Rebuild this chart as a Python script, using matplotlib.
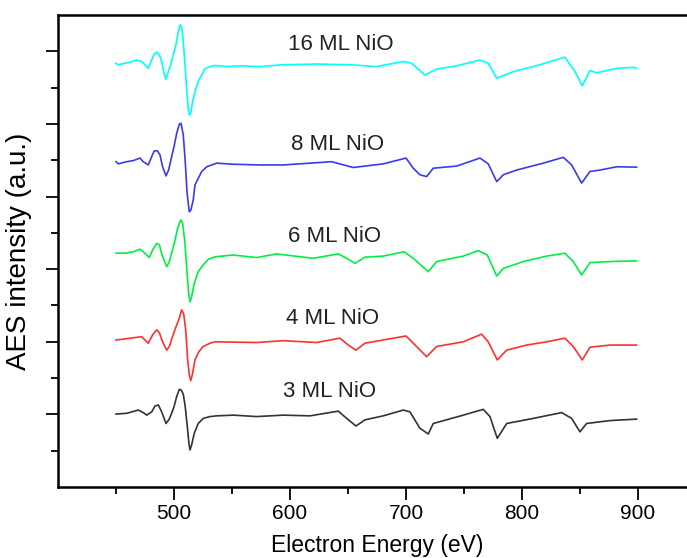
# AES spectra of NiO films of increasing thickness (offset for clarity)
import matplotlib
matplotlib.use('Agg')
import matplotlib.pyplot as plt
from matplotlib.ticker import FixedLocator

plt.rcParams['font.family'] = ['Liberation Sans', 'DejaVu Sans']

# energies (eV) and intensities (a.u., offset already included)
e_3ml = [450, 459.2, 469.2, 473.5, 476.5, 480.8, 483.6, 486.5, 489.4, 493.1, 495.7,
         498.0, 500.0, 502.3, 504.6, 506.3, 508.0, 509.7, 511.5, 512.9, 513.8, 515.2,
         517.5, 520.9, 525.2, 531.0, 536.8, 551.1, 571.3, 594.2, 617.2, 641.6, 648.9,
         656.9, 664.6, 680.4, 697.7, 703.4, 712.0, 719.2, 723.5, 749.4, 766.6, 772.4,
         778.7, 786.8, 809.7, 834.2, 842.8, 850.0, 855.7, 875.8, 898.8]
i_3ml = [2.01, 2.03, 2.12, 2.05, 1.98, 2.07, 2.23, 2.26, 2.07, 1.75, 1.86,
         2.03, 2.21, 2.49, 2.69, 2.67, 2.56, 2.21, 1.66, 1.20, 1.02, 1.16,
         1.48, 1.75, 1.89, 1.94, 1.96, 1.98, 1.94, 1.98, 1.96, 2.09, 1.89,
         1.68, 1.85, 1.96, 2.12, 2.07, 1.62, 1.46, 1.75, 1.98, 2.14, 1.94,
         1.34, 1.75, 1.89, 2.05, 1.89, 1.52, 1.75, 1.83, 1.87]

e_4ml = [450, 457.8, 464.9, 472.1, 475.0, 477.8, 481.6, 485.1, 487.4, 490.2, 493.7,
         496.0, 498.3, 500.9, 504.6, 506.6, 508.3, 510.1, 511.8, 513.2, 514.4, 515.8,
         518.1, 521.5, 525.2, 531.0, 535.3, 551.1, 571.3, 594.2, 623.0, 643.1, 650.2,
         656.9, 664.6, 680.4, 700.0, 706.3, 717.8, 726.4, 749.4, 765.2, 770.9, 778.7,
         786.8, 804.0, 821.3, 837.0, 844.2, 852.0, 858.6, 875.8, 898.8]
i_4ml = [4.05, 4.08, 4.11, 4.14, 4.05, 3.96, 4.19, 4.33, 4.25, 4.00, 3.77,
         3.87, 4.10, 4.34, 4.65, 4.88, 4.78, 4.33, 3.50, 3.09, 2.93, 3.09,
         3.50, 3.73, 3.87, 3.96, 4.00, 3.99, 3.98, 4.03, 3.98, 4.10, 3.91,
         3.77, 3.96, 4.05, 4.16, 3.96, 3.59, 3.87, 4.00, 4.21, 4.00, 3.50,
         3.77, 3.91, 4.00, 4.10, 3.87, 3.50, 3.85, 3.91, 3.91]

e_6ml = [450, 457.8, 464.9, 470.7, 475.0, 478.7, 481.6, 485.1, 487.4, 489.7, 493.7,
         496.0, 498.3, 500.9, 503.2, 505.8, 507.5, 509.2, 510.9, 512.6, 513.8, 515.2,
         517.5, 520.9, 525.2, 529.6, 535.3, 551.1, 571.3, 588.5, 620.1, 641.6, 648.9,
         656.0, 664.6, 680.4, 698.3, 706.3, 719.2, 726.4, 749.4, 762.3, 770.1, 778.2,
         783.9, 801.1, 821.3, 837.0, 844.2, 851.4, 858.6, 875.8, 898.8]
i_6ml = [6.44, 6.44, 6.48, 6.55, 6.44, 6.32, 6.53, 6.71, 6.67, 6.39, 6.07,
         6.21, 6.48, 6.80, 7.13, 7.36, 7.26, 6.80, 6.07, 5.34, 5.10, 5.24,
         5.61, 5.93, 6.12, 6.27, 6.34, 6.39, 6.32, 6.42, 6.30, 6.42, 6.30,
         6.16, 6.33, 6.36, 6.48, 6.30, 5.93, 6.21, 6.36, 6.51, 6.39, 5.81,
         6.02, 6.21, 6.36, 6.44, 6.21, 5.84, 6.18, 6.21, 6.23]

e_8ml = [450, 452.0, 459.2, 464.9, 470.7, 473.5, 477.8, 480.8, 483.0, 485.6, 487.9,
         490.2, 493.1, 495.4, 497.7, 500.0, 502.3, 504.6, 506.0, 508.0, 509.7, 511.2,
         512.3, 513.2, 514.6, 516.6, 518.1, 520.9, 523.9, 528.2, 536.8, 551.1, 574.1,
         594.2, 635.9, 654.5, 680.4, 700.0, 706.3, 712.0, 717.8, 723.5, 743.7, 763.8,
         770.9, 778.2, 783.9, 795.4, 818.3, 835.6, 842.8, 851.4, 858.6, 867.2, 881.6,
         898.8]
i_8ml = [8.96, 8.90, 8.96, 8.99, 9.06, 8.96, 8.87, 9.10, 9.26, 9.26, 9.15,
         8.82, 8.57, 8.73, 9.06, 9.37, 9.74, 9.99, 10.02, 9.70, 8.96, 8.14,
         7.82, 7.58, 7.63, 7.91, 8.32, 8.50, 8.69, 8.82, 8.92, 8.89, 8.87,
         8.87, 8.96, 8.80, 8.90, 9.06, 8.78, 8.60, 8.55, 8.78, 8.84, 9.06,
         8.90, 8.41, 8.60, 8.73, 8.92, 9.08, 8.87, 8.37, 8.69, 8.73, 8.82,
         8.81]

e_16ml = [450, 452.0, 456.3, 462.1, 467.8, 472.1, 475.0, 477.8, 480.8, 483.0, 485.1,
          487.4, 489.4, 491.4, 493.1, 495.1, 497.1, 499.4, 501.7, 503.7, 505.2, 506.6,
          508.0, 509.5, 510.9, 512.3, 513.2, 514.4, 516.1, 518.1, 520.9, 523.9, 526.7,
          531.0, 535.3, 545.4, 556.9, 574.1, 594.2, 623.0, 651.7, 674.7, 697.7, 704.9,
          716.4, 726.4, 743.7, 763.8, 770.9, 778.2, 792.5, 815.5, 837.0, 845.7, 852.0,
          858.6, 864.4, 881.6, 895.9, 898.8]
i_16ml = [11.67, 11.63, 11.66, 11.70, 11.76, 11.72, 11.63, 11.53, 11.76, 11.92, 11.98,
          11.90, 11.72, 11.40, 11.23, 11.44, 11.63, 11.90, 12.18, 12.54, 12.73, 12.68,
          12.27, 11.63, 10.98, 10.43, 10.25, 10.29, 10.62, 10.89, 11.17, 11.35, 11.52,
          11.58, 11.61, 11.58, 11.60, 11.58, 11.63, 11.65, 11.63, 11.58, 11.72, 11.67,
          11.35, 11.51, 11.60, 11.76, 11.67, 11.26, 11.44, 11.63, 11.84, 11.44, 11.05,
          11.47, 11.41, 11.53, 11.56, 11.53]

labels = ['3 ML NiO', '4 ML NiO', '6 ML NiO', '8 ML NiO', '16 ML NiO']
label_x = [634, 637, 638, 641, 644]
label_y = [2.64, 4.63, 6.91, 9.42, 12.18]
colors = ['#333333', '#ff3030', '#00f040', '#3a3af0', '#00ffff']

fig = plt.figure(figsize=(6.87, 5.58), dpi=100)
ax = fig.add_axes([0.0844, 0.1272, 0.9287, 0.8459])

spectra = [(e_3ml, i_3ml), (e_4ml, i_4ml), (e_6ml, i_6ml), (e_8ml, i_8ml), (e_16ml, i_16ml)]
for (e, inten), c in zip(spectra, colors):
    ax.plot(e, inten, color=c, lw=1.2)

for lab, x, y in zip(labels, label_x, label_y):
    ax.text(x, y, lab, ha='center', va='center', fontsize=16, color='#222222')

ax.set_xlim(400, 950)
ax.set_ylim(0, 13)
ax.xaxis.set_major_locator(FixedLocator([500, 600, 700, 800, 900]))
ax.xaxis.set_minor_locator(FixedLocator([450, 550, 650, 750, 850]))
ax.yaxis.set_major_locator(FixedLocator([2, 4, 6, 8, 10, 12]))
ax.yaxis.set_minor_locator(FixedLocator([1, 3, 5, 7, 9, 11]))
ax.set_yticklabels([])
ax.tick_params(which='major', direction='out', length=9, width=1.3, labelsize=15)
ax.tick_params(which='minor', direction='out', length=5, width=1.3)
for s in ax.spines.values():
    s.set_linewidth(1.8)

ax.set_xlabel('Electron Energy (eV)', fontsize=16.5, labelpad=8)
ax.set_ylabel('AES intensity (a.u.)', fontsize=20, labelpad=6)

fig.savefig('out.png', dpi=100)
